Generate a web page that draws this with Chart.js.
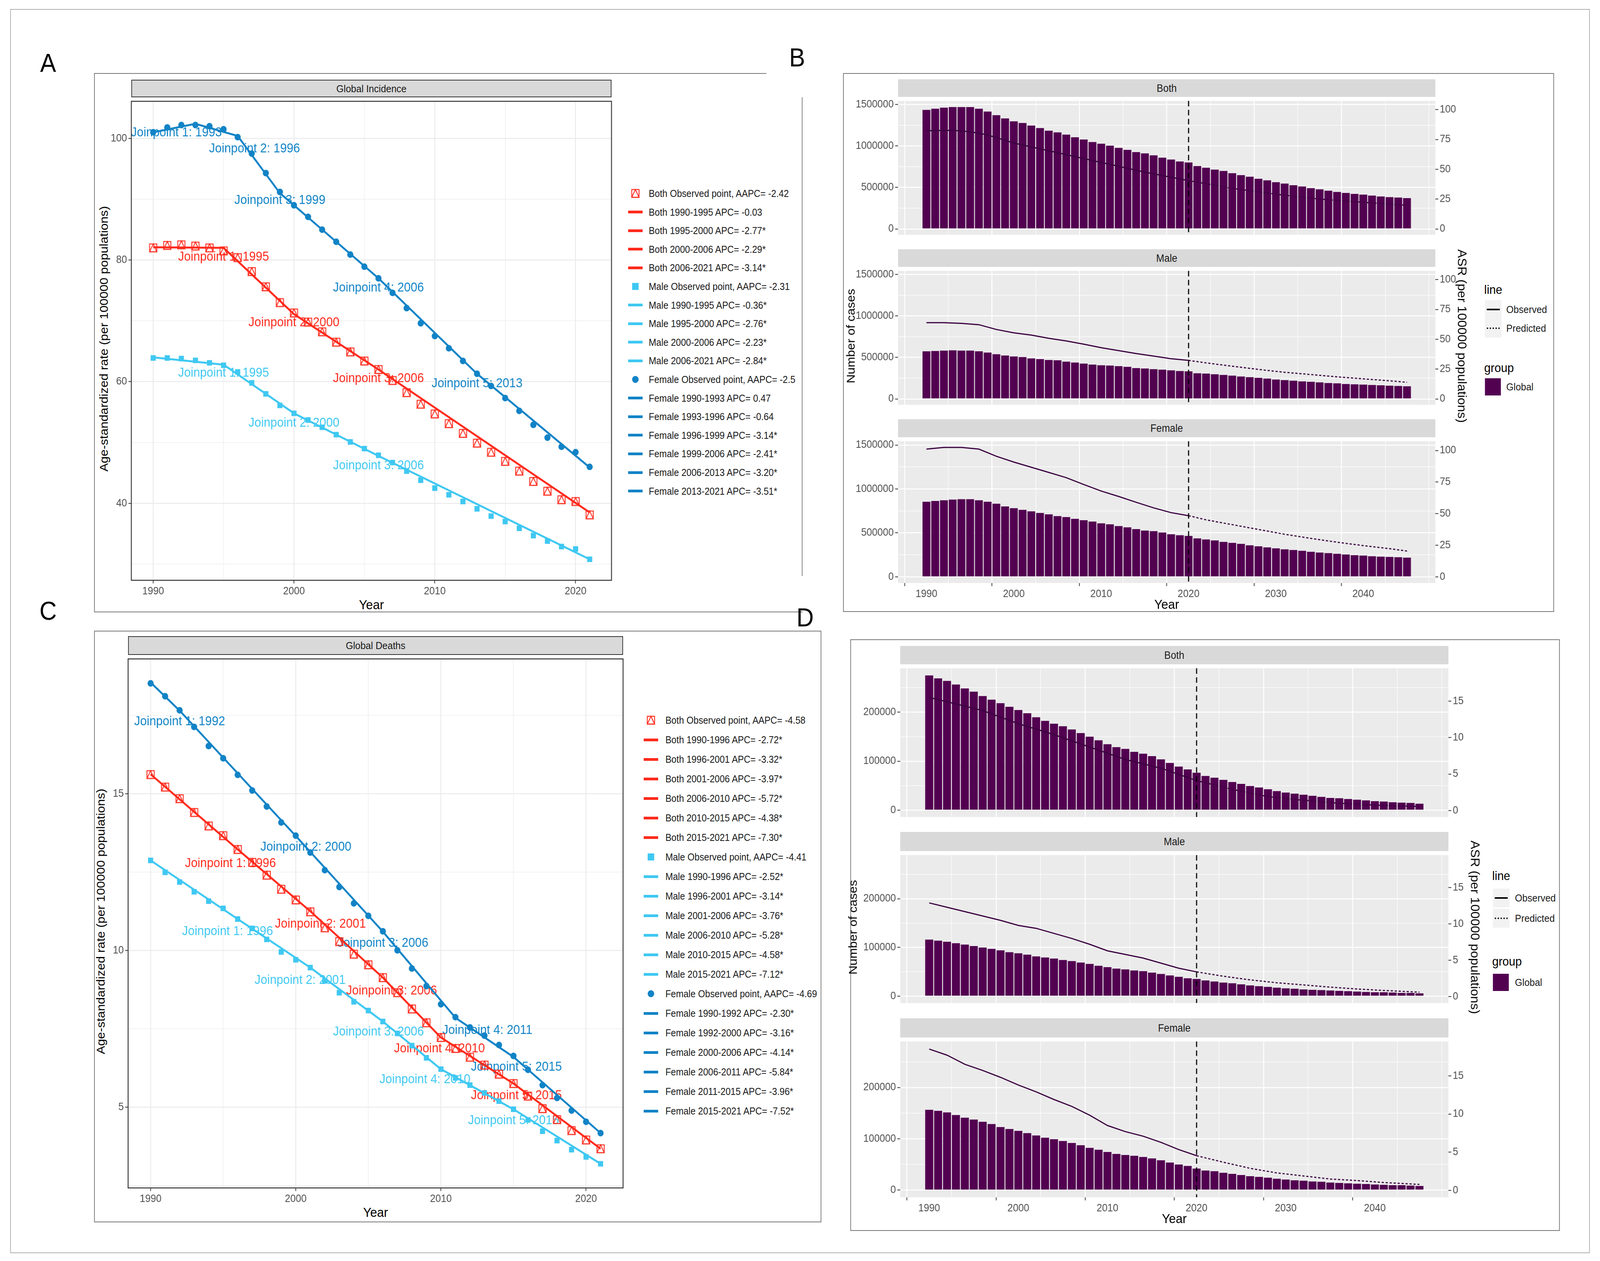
<!DOCTYPE html>
<html><head><meta charset="utf-8">
<script src="https://cdn.jsdelivr.net/npm/chart.js@4"></script>
<style>
html,body{margin:0;padding:0;overflow:hidden;background:#fff;width:100%;height:100%;}
#root{position:absolute;left:0;top:0;width:4422px;height:3227px;background:#fff;transform-origin:0 0;font-family:'Liberation Sans Narrow','Liberation Sans',sans-serif;}
.a{position:absolute;white-space:nowrap;}
</style></head><body><div id="root"></div>
<script>
const ROOT = document.getElementById('root');
ROOT.style.transform = `scale(${window.innerWidth / 4422}, ${window.innerHeight / 3227})`;

// ---------- categories ----------
const yrsObs = []; for (let y = 1990; y <= 2021; y++) yrsObs.push(y);
const yrsProj = []; for (let y = 1990; y <= 2045; y++) yrsProj.push(y);

// ---------- Panel A: Global Incidence (ASR) ----------
const aFemale = [101.0,101.8,102.2,102.2,102.0,101.5,100.2,97.5,94.3,91.2,89.0,87.1,85.0,83.0,80.9,78.9,77.0,74.6,72.1,69.6,67.5,65.5,63.4,61.3,59.3,57.3,55.2,52.9,50.8,49.3,48.4,46.0];
const aBoth = [82.0,82.4,82.5,82.3,82.0,81.5,80.4,78.1,75.6,73.0,71.3,69.8,68.2,66.5,64.9,63.4,62.0,60.2,58.2,56.3,54.7,53.1,51.5,49.9,48.4,46.9,45.3,43.6,42.0,40.6,40.3,38.1];
const aMale = [63.9,63.9,63.8,63.5,63.1,62.7,61.6,59.8,58.0,56.1,54.8,53.7,52.5,51.3,50.1,49.0,47.9,46.7,45.3,43.8,42.5,41.4,40.3,39.1,37.9,37.0,35.9,34.7,33.8,32.9,32.5,30.8];
const aBothFitX = [1990,1995,2000,2006,2021], aBothFitY = [82.1,82.0,71.1,62.0,38.5];
const aMaleFitX = [1990,1995,2000,2006,2021], aMaleFitY = [64.0,62.8,54.8,47.8,30.8];
const aFemaleFitX = [1990,1993,1996,1999,2006,2013,2021], aFemaleFitY = [101.0,102.4,100.4,91.0,77.0,61.3,45.9];
const aYTicks = [30,40,50,60,70,80,90,100];
const xTicksA = [1990,1995,2000,2005,2010,2015,2020];
const aLegend = ['Both Observed point, AAPC= -2.42','Both 1990-1995 APC= -0.03','Both 1995-2000 APC= -2.77*','Both 2000-2006 APC= -2.29*','Both 2006-2021 APC= -3.14*','Male Observed point, AAPC= -2.31','Male 1990-1995 APC= -0.36*','Male 1995-2000 APC= -2.76*','Male 2000-2006 APC= -2.23*','Male 2006-2021 APC= -2.84*','Female Observed point, AAPC= -2.5','Female 1990-1993 APC= 0.47','Female 1993-1996 APC= -0.64','Female 1996-1999 APC= -3.14*','Female 1999-2006 APC= -2.41*','Female 2006-2013 APC= -3.20*','Female 2013-2021 APC= -3.51*'];
const aJoin = [
 ['Joinpoint 1: 1993',1991.65,100.9,'F'],['Joinpoint 2: 1996',1997.2,98.3,'F'],['Joinpoint 3: 1999',1999,89.8,'F'],['Joinpoint 4: 2006',2006,75.4,'F'],['Joinpoint 5: 2013',2013,59.7,'F'],
 ['Joinpoint 1: 1995',1995,80.5,'B'],['Joinpoint 2: 2000',2000,69.7,'B'],['Joinpoint 3: 2006',2006,60.5,'B'],
 ['Joinpoint 1: 1995',1995,61.4,'M'],['Joinpoint 2: 2000',2000,53.2,'M'],['Joinpoint 3: 2006',2006,46.2,'M']];

// ---------- Panel C: Global Deaths (ASR) ----------
const cFemale = [18.52,18.11,17.66,17.13,16.52,16.13,15.60,15.10,14.59,14.08,13.66,13.12,12.56,12.02,11.50,11.10,10.61,10.00,9.42,8.86,8.28,7.87,7.54,7.28,6.98,6.63,6.19,5.70,5.29,4.89,4.53,4.17];
const cBoth = [15.61,15.21,14.84,14.40,13.97,13.66,13.22,12.81,12.40,11.95,11.61,11.23,10.72,10.28,9.88,9.54,9.13,8.65,8.13,7.69,7.22,6.87,6.59,6.34,6.05,5.75,5.35,4.95,4.60,4.25,3.95,3.67];
const cMale = [12.87,12.49,12.18,11.87,11.57,11.34,11.00,10.70,10.35,9.95,9.70,9.45,9.03,8.65,8.36,8.08,7.73,7.35,6.96,6.57,6.21,5.93,5.70,5.45,5.19,4.93,4.59,4.23,3.93,3.64,3.41,3.19];
const cBothFitX = [1990,1996,2001,2006,2010,2015,2021], cBothFitY = [15.62,13.22,11.25,9.13,7.22,5.75,3.67];
const cMaleFitX = [1990,1996,2001,2006,2010,2015,2021], cMaleFitY = [12.87,11.0,9.45,7.73,6.21,4.93,3.19];
const cFemaleFitX = [1990,1992,2000,2006,2011,2015,2021], cFemaleFitY = [18.55,17.65,13.65,10.6,7.85,6.6,4.17];
const cYTicks = [2.5,5,7.5,10,12.5,15,17.5];
const cLegend = ['Both Observed point, AAPC= -4.58','Both 1990-1996 APC= -2.72*','Both 1996-2001 APC= -3.32*','Both 2001-2006 APC= -3.97*','Both 2006-2010 APC= -5.72*','Both 2010-2015 APC= -4.38*','Both 2015-2021 APC= -7.30*','Male Observed point, AAPC= -4.41','Male 1990-1996 APC= -2.52*','Male 1996-2001 APC= -3.14*','Male 2001-2006 APC= -3.76*','Male 2006-2010 APC= -5.28*','Male 2010-2015 APC= -4.58*','Male 2015-2021 APC= -7.12*','Female Observed point, AAPC= -4.69','Female 1990-1992 APC= -2.30*','Female 1992-2000 APC= -3.16*','Female 2000-2006 APC= -4.14*','Female 2006-2011 APC= -5.84*','Female 2011-2015 APC= -3.96*','Female 2015-2021 APC= -7.52*'];
const cJoin = [
 ['Joinpoint 1: 1992',1992,17.3,'F'],['Joinpoint 2: 2000',2000.7,13.3,'F'],['Joinpoint 3: 2006',2006,10.23,'F'],['Joinpoint 4: 2011',2013.2,7.45,'F'],['Joinpoint 5: 2015',2015.2,6.28,'F'],
 ['Joinpoint 1: 1996',1995.5,12.77,'B'],['Joinpoint 2: 2001',2001.7,10.84,'B'],['Joinpoint 3: 2006',2006.6,8.70,'B'],['Joinpoint 4: 2010',2009.9,6.86,'B'],['Joinpoint 5: 2015',2015.2,5.36,'B'],
 ['Joinpoint 1: 1996',1995.3,10.6,'M'],['Joinpoint 2: 2001',2000.3,9.04,'M'],['Joinpoint 3: 2006',2005.7,7.4,'M'],['Joinpoint 4: 2010',2008.9,5.88,'M'],['Joinpoint 5: 2015',2015,4.56,'M']];

// ---------- Panel B: incidence cases + ASR projection ----------
const bBothCases = [1434000,1449000,1461000,1469000,1469000,1469000,1449000,1414000,1371000,1332000,1297000,1277000,1246000,1215000,1184000,1164000,1137000,1105000,1078000,1047000,1027000,1004000,977000,953000,926000,910000,887000,859000,836000,813000,801000,758000,738000,715000,699000,672000,648000,629000,605000,586000,563000,547000,527000,512000,492000,477000,461000,445000,434000,422000,414000,402000,391000,383000,379000,371000];
const bMaleCases = [574000,578000,582000,586000,582000,582000,574000,559000,539000,523000,512000,504000,488000,480000,469000,465000,449000,438000,426000,414000,406000,402000,395000,387000,371000,367000,359000,352000,344000,336000,332000,309000,305000,297000,289000,281000,270000,262000,254000,246000,234000,227000,219000,211000,207000,199000,191000,188000,180000,176000,172000,168000,164000,160000,156000,152000];
const bFemaleCases = [855000,863000,871000,879000,883000,883000,871000,855000,832000,801000,781000,762000,746000,727000,711000,691000,680000,660000,645000,629000,609000,598000,578000,563000,543000,527000,520000,504000,484000,473000,465000,438000,426000,414000,398000,387000,375000,359000,348000,336000,324000,313000,305000,297000,285000,277000,270000,262000,254000,246000,242000,234000,230000,227000,223000,219000];
const bBothObsX = [1990,1993,1995,1997,2000,2005,2010,2015,2020], bBothObsY = [82.3,82.6,81.5,78.8,72.0,63.9,55.7,47.6,40.5];
const bBothPredX = [2020,2025,2030,2035,2040,2045], bBothPredY = [40.5,34.0,29.1,25.0,22.3,19.8];
const bSexObsX = [1990,1992,1994,1996,1998,2000,2002,2004,2006,2008,2010,2012,2014,2016,2018,2020];
const bSexPredX = [2020,2022,2025,2028,2031,2034,2037,2040,2043,2045];
const bMaleObsY = [63.9,63.9,63.3,62.2,58.2,55.4,53.5,50.8,48.6,45.9,42.9,40.5,38.0,35.9,33.7,32.3];
const bMalePredY = [32.3,30.2,27.4,24.7,22.3,20.4,18.5,16.8,15.2,13.9];
const bFemaleObsY = [101.1,102.4,102.4,101.1,95.4,90.8,86.7,82.6,78.5,73.1,67.9,63.6,59.0,54.6,50.8,48.4];
const bFemalePredY = [48.4,45.1,41.3,37.5,33.7,30.4,27.4,24.7,22.3,20.4];
const bLeftTicks = [0,250000,500000,750000,1000000,1250000,1500000];
const bRightTicks = [0,25,50,75,100];
const xTicksP = [1990,1995,2000,2005,2010,2015,2020,2025,2030,2035,2040,2045];

// ---------- Panel D: death cases + ASR projection ----------
const dBothCases = [275000,269100,264000,256600,248500,241900,233100,225700,218400,211000,204400,197800,189700,182400,176500,171300,164700,157400,150000,142600,134600,128700,125000,119100,115400,110300,103700,96300,89000,83100,76500,69900,66200,61800,57400,53700,49300,46300,42600,39000,36000,33800,31600,29400,27200,25000,24300,22800,21300,19900,18400,17600,16200,15400,14700,13200];
const dMaleCases = [116200,114000,111800,108800,105900,102900,100000,97100,94100,90400,88200,85300,81600,79400,77200,74300,72100,69100,66200,62500,59600,56600,55100,52900,51500,48500,45600,42600,39700,36800,35300,32400,30100,27900,26500,24300,22100,20600,19100,17600,16200,15400,14000,13200,12500,11800,11000,10300,9600,8800,8100,8100,7400,6600,6600,5900];
const dFemaleCases = [156600,154400,151500,146300,141200,137500,133100,128700,122800,119100,115400,111000,106600,102200,99300,95600,91900,87500,82400,78700,74300,70600,68400,66900,64700,61800,58100,53700,50000,47100,41900,38200,36800,33800,31600,29400,27200,25700,24300,22100,20600,19100,18400,16900,16200,14700,14000,13200,12500,11800,11000,10300,9600,9600,8800,8100];
const dBothObsX = [1990,1993,1996,2000,2004,2008,2012,2016,2020], dBothObsY = [15.5,14.6,13.7,11.9,10.4,8.7,7.0,5.8,4.1];
const dBothPredX = [2020,2024,2028,2032,2036,2040,2045], dBothPredY = [4.1,2.9,1.9,1.4,1.0,0.74,0.55];
const dMaleObsX = [1990,1992,1995,1998,2000,2002,2004,2006,2008,2010,2012,2014,2016,2018,2020], dMaleObsY = [12.9,12.3,11.4,10.5,9.8,9.4,8.7,8.0,7.2,6.3,5.8,5.3,4.6,3.9,3.4];
const dSexPredX = [2020,2023,2026,2029,2032,2035,2038,2041,2045];
const dMalePredY = [3.4,2.8,2.3,1.9,1.6,1.3,1.04,0.84,0.6];
const dFemaleObsX = [1990,1992,1994,1996,1998,2000,2002,2004,2006,2008,2010,2012,2014,2016,2018,2020], dFemaleObsY = [18.5,17.7,16.5,15.7,14.8,13.8,12.9,11.9,11.0,9.85,8.5,7.7,7.1,6.3,5.35,4.55];
const dFemalePredY = [4.55,3.7,2.9,2.3,1.9,1.5,1.3,1.04,0.8];
const dLeftTicks = [0,50000,100000,150000,200000,250000];
const dRightTicks = [0,5,10,15];

// ---------- styling ----------
const RED = '#FF2A1C', MALE = '#3FC8F2', FEM = '#1183C6', PURP = '#520050', LINEP = '#3a0040';
const COL = {B: RED, M: MALE, F: FEM};
const FN = "'Liberation Sans Narrow','Liberation Sans',sans-serif";
Chart.defaults.font.family = FN;
Chart.defaults.color = '#4d4d4d';
Chart.defaults.animation = false;

const pairs = (xs, ys) => xs.map((x, i) => ({x, y: ys[i]}));

function div(x, y, w, h, css) {
  const d = document.createElement('div'); d.className = 'a';
  d.style.left = x + 'px'; d.style.top = y + 'px';
  if (w != null) d.style.width = w + 'px'; if (h != null) d.style.height = h + 'px';
  if (css) d.style.cssText += css;
  ROOT.appendChild(d); return d;
}
function txt(s, x, y, size, css, rot) {
  const d = div(x, y, null, null, `font-size:${size}px;line-height:1;transform:translate(-50%,-50%) rotate(${rot||0}deg);` + (css||''));
  d.textContent = s; return d;
}
function ltxt(s, x, y, size, css) {
  const d = div(x, y, null, null, `font-size:${size}px;line-height:1;transform:translateY(-50%);` + (css||''));
  d.textContent = s; return d;
}

function glyph(color) {
  const c = document.createElement('canvas'); c.width = 26; c.height = 26;
  const g = c.getContext('2d'); g.strokeStyle = color; g.lineWidth = 2.4;
  g.strokeRect(3, 3, 20, 20);
  g.beginPath(); g.moveTo(13, 3); g.lineTo(3, 23); g.lineTo(23, 23); g.closePath(); g.stroke();
  return c;
}

// plugins
Chart.register({
  id: 'panelbg',
  beforeDraw(c, a, o) { if (!o.color) return; const ca = c.chartArea; c.ctx.save(); c.ctx.fillStyle = o.color; c.ctx.fillRect(ca.left, ca.top, ca.right - ca.left, ca.bottom - ca.top); c.ctx.restore(); },
  afterDraw(c, a, o) { if (!o.frame) return; const ca = c.chartArea; c.ctx.save(); c.ctx.strokeStyle = o.frame; c.ctx.lineWidth = 2.5; c.ctx.strokeRect(ca.left, ca.top, ca.right - ca.left, ca.bottom - ca.top); c.ctx.restore(); }
});
Chart.register({
  id: 'vline',
  afterDatasetsDraw(c, a, o) { if (o.x == null) return; const px = c.scales.x.getPixelForValue(o.x); const ca = c.chartArea; const g = c.ctx; g.save(); g.strokeStyle = '#000'; g.lineWidth = 3; g.setLineDash([14, 9]); g.beginPath(); g.moveTo(px, ca.top); g.lineTo(px, ca.bottom); g.stroke(); g.restore(); }
});
Chart.register({
  id: 'jp',
  beforeDatasetsDraw(c, a, o) { if (!o.labels) return; const g = c.ctx; g.save(); g.font = `33px ${FN}`; g.textAlign = 'center'; g.textBaseline = 'middle';
    o.labels.forEach(l => { g.fillStyle = COL[l[3]]; g.fillText(l[0], c.scales.x.getPixelForValue(l[1]), c.scales.y.getPixelForValue(l[2])); }); g.restore(); }
});

function scaleX(min, max, ticks, every, show, gridColor) {
  return { type: 'linear', min, max, offset: false,
    afterBuildTicks: s => { s.ticks = ticks.map(v => ({value: v})); },
    ticks: { display: show, autoSkip: false, maxRotation: 0, padding: 4, font: {size: 27}, color: '#4d4d4d', callback: v => (v % every === 0 ? String(v) : '') },
    grid: { color: gridColor, lineWidth: c => (c.tick && c.tick.value % every === 0 ? 2.6 : 1.3), drawTicks: show, tickLength: 8, tickWidth: 2, tickColor: c => (c.tick && c.tick.value % every === 0 ? '#333' : 'rgba(0,0,0,0)') },
    border: { display: false } };
}
function scaleY(min, max, ticks, every, gridColor, pos) {
  const right = pos === 'right';
  return { type: 'linear', min, max, position: right ? 'right' : 'left',
    afterBuildTicks: s => { s.ticks = ticks.map(v => ({value: v})); },
    ticks: { autoSkip: false, padding: 4, font: {size: 27}, color: '#4d4d4d', callback: v => (Math.abs(v % every) < 1e-9 ? String(v) : '') },
    grid: { drawOnChartArea: !right, color: gridColor, lineWidth: c => (c.tick && Math.abs(c.tick.value % every) < 1e-9 ? 2.6 : 1.3), tickLength: 8, tickWidth: 2, tickColor: c => (c.tick && Math.abs(c.tick.value % every) < 1e-9 ? '#333' : 'rgba(0,0,0,0)') },
    border: { display: false } };
}

// generic chart builder with exact plot area
function mk(L, T, R, B, lw, rw, bh, cfg) {
  const pad = 10;
  const c = document.createElement('canvas');
  const W = R - L + lw + rw + 2, H = B - T + pad + bh;
  c.width = W; c.height = H; c.className = 'a';
  c.style.left = (L - lw) + 'px'; c.style.top = (T - pad) + 'px'; c.style.width = W + 'px'; c.style.height = H + 'px';
  ROOT.appendChild(c);
  const sc = cfg.options.scales;
  sc.y.afterFit = s => { s.width = lw; };
  sc.x.afterFit = s => { s.height = bh; };
  if (sc.y2) sc.y2.afterFit = s => { s.width = rw + 2; };
  cfg.options.layout = { padding: { top: pad, left: 0, bottom: 0, right: sc.y2 ? 0 : rw + 2 } };
  cfg.options.responsive = false; cfg.options.devicePixelRatio = 1; cfg.options.animation = false;
  cfg.options.plugins = Object.assign({ legend: {display: false}, tooltip: {enabled: false} }, cfg.options.plugins || {});
  return new Chart(c, cfg);
}

// ---------- frames & labels ----------
div(28, 23, 4366, 3184, 'border:2px solid #b0b0b0;box-sizing:border-box;');
div(260, 187, 1858, 1379, 'border-left:2px solid #777;border-top:2px solid #777;box-sizing:border-box;');
div(260, 1565, 1958, 2, 'background:#777;');
div(2216, 249, 2, 1225, 'background:#777;');
div(2330, 187, 1965, 1379, 'border:2px solid #777;box-sizing:border-box;');
div(260, 1614, 2010, 1514, 'border:2px solid #777;box-sizing:border-box;');
div(2350, 1636, 1961, 1514, 'border:2px solid #777;box-sizing:border-box;');
const PL = "font-family:'Liberation Sans',sans-serif;color:#000;";
txt('A', 133, 161, 66, PL); txt('B', 2203, 147, 66, PL); txt('C', 133, 1563, 66, PL); txt('D', 2225, 1580, 66, PL);

// ---------- joinpoint panels (A, C) ----------
function jpPanel(o) {
  div(o.L, o.ST, o.R - o.L, o.T - o.ST, 'background:#D9D9D9;border:2.5px solid #333;box-sizing:border-box;');
  txt(o.strip, (o.L + o.R) / 2, (o.ST + o.T) / 2, 26, 'color:#1a1a1a;');
  txt('Year', (o.L + o.R) / 2, o.B + 62, 34, 'color:#000;');
  txt('Age-standardized rate (per 100000 populations)', o.L - 76, (o.T + o.B) / 2, 32, "color:#000;font-family:'Liberation Sans',sans-serif;", -90);
  const g = glyph(RED);
  mk(o.L, o.T, o.R, o.B, 100, 12, 48, {
    type: 'line',
    data: { datasets: [
      {data: pairs(yrsObs, o.fem), showLine: false, pointStyle: 'circle', pointRadius: 8.5, backgroundColor: FEM, borderWidth: 0},
      {data: pairs(yrsObs, o.male), showLine: false, pointStyle: 'rect', pointRadius: 10, backgroundColor: MALE, borderWidth: 0},
      {data: pairs(yrsObs, o.both), showLine: false, pointStyle: g, pointRadius: 10},
      {data: pairs(o.ffx, o.ffy), borderColor: FEM, borderWidth: 5, pointRadius: 0},
      {data: pairs(o.mfx, o.mfy), borderColor: MALE, borderWidth: 5, pointRadius: 0},
      {data: pairs(o.bfx, o.bfy), borderColor: RED, borderWidth: 5, pointRadius: 0}
    ] },
    options: {
      scales: { x: scaleX(1988.45, 2022.55, xTicksA, 10, true, '#EBEBEB'), y: scaleY(o.ymin, o.ymax, o.yticks, o.every, '#EBEBEB') },
      plugins: { panelbg: {frame: '#333'}, jp: {labels: o.join} }
    }
  });
  // legend
  o.legend.forEach((s, i) => {
    const y = o.LY + o.LS * i, k = s.split(' ')[0];
    const col = k === 'Both' ? RED : k === 'Male' ? MALE : FEM;
    if (s.indexOf('Observed') >= 0) {
      if (k === 'Both') { const gc = glyph(RED); gc.className = 'a'; gc.style.left = (o.SX + 7) + 'px'; gc.style.top = (y - 13) + 'px'; ROOT.appendChild(gc); }
      else if (k === 'Male') div(o.SX + 11, y - 9, 18, 18, `background:${col};`);
      else div(o.SX + 11, y - 9, 18, 18, `background:${col};border-radius:50%;`);
    } else div(o.SX, y - 3.5, 40, 7, `background:${col};`);
    ltxt(s, o.TX, y, 25, 'color:#1a1a1a;');
  });
}
jpPanel({L: 363, R: 1690, ST: 204, T: 249, B: 1485, strip: 'Global Incidence', fem: aFemale, male: aMale, both: aBoth,
  ffx: aFemaleFitX, ffy: aFemaleFitY, mfx: aMaleFitX, mfy: aMaleFitY, bfx: aBothFitX, bfy: aBothFitY,
  ymin: 27.35, ymax: 106.1, yticks: aYTicks, every: 20, join: aJoin, legend: aLegend, LY: 495, LS: 47.6, SX: 1736, TX: 1793});
jpPanel({L: 354, R: 1722, ST: 1628, T: 1676, B: 3040, strip: 'Global Deaths', fem: cFemale, male: cMale, both: cBoth,
  ffx: cFemaleFitX, ffy: cFemaleFitY, mfx: cMaleFitX, mfy: cMaleFitY, bfx: cBothFitX, bfy: cBothFitY,
  ymin: 2.42, ymax: 19.3, yticks: cYTicks, every: 5, join: cJoin, legend: cLegend, LY: 1843, LS: 50, SX: 1779, TX: 1839});

// ---------- projection panels (B, D) ----------
function projPanel(o) {
  o.facets.forEach((f, i) => {
    const last = i === o.facets.length - 1;
    div(o.L, f.ST, o.R - o.L, f.T - f.ST, 'background:#D9D9D9;');
    txt(f.name, (o.L + o.R) / 2, (f.ST + f.T) / 2, 27, 'color:#1a1a1a;');
    mk(o.L, f.T, o.R, f.B, 150, 95, last ? 44 : 0, {
      type: 'bar',
      data: { datasets: [
        {type: 'line', data: pairs(f.ox, f.oy), yAxisID: 'y2', borderColor: LINEP, borderWidth: 3, pointRadius: 0},
        {type: 'line', data: pairs(f.px, f.py), yAxisID: 'y2', borderColor: LINEP, borderWidth: 3, borderDash: [6, 5], pointRadius: 0},
        {type: 'bar', data: pairs(yrsProj, f.cases), yAxisID: 'y', backgroundColor: PURP, barPercentage: 0.9, categoryPercentage: 1}
      ] },
      options: {
        scales: {
          x: scaleX(1986.75, 2048.25, xTicksP, 10, last, '#FFFFFF'),
          y: scaleY(o.lmin, o.lmax, o.lticks, o.levery, '#FFFFFF'),
          y2: scaleY(o.rmin, o.rmax, o.rticks, o.revery, '#FFFFFF', 'right')
        },
        plugins: { panelbg: {color: '#EBEBEB'}, vline: {x: 2020} }
      }
    });
  });
  const mid = (o.facets[1].T + o.facets[1].B) / 2 - 10;
  txt('Number of cases', o.L - 131, mid, 32, "color:#000;font-family:'Liberation Sans',sans-serif;", -90);
  txt('ASR (per 100000 populations)', o.R + 74, mid, 33, "color:#000;font-family:'Liberation Sans',sans-serif;", 90);
  txt('Year', (o.L + o.R) / 2, o.facets[2].B + 54, 34, 'color:#000;');
  const g = o.leg;
  ltxt('line', g.x, g.line, 32, 'color:#000;');
  div(g.kx, g.obs - 24, 46, 48, 'background:#F2F2F2;'); div(g.kx, g.pred - 24, 46, 48, 'background:#F2F2F2;');
  div(g.kx + 5, g.obs - 2, 36, 4, 'background:#000;');
  div(g.kx + 5, g.pred - 2, 36, 0, 'border-top:4px dotted #000;');
  ltxt('Observed', g.tx, g.obs, 26, 'color:#1a1a1a;'); ltxt('Predicted', g.tx, g.pred, 26, 'color:#1a1a1a;');
  ltxt('group', g.x, g.group, 32, 'color:#000;');
  div(g.kx, g.glob - 22, 44, 44, `background:${PURP};`);
  ltxt('Global', g.tx, g.glob, 26, 'color:#1a1a1a;');
}
projPanel({L: 2482, R: 3967, lmin: -70300, lmax: 1543000, lticks: bLeftTicks, levery: 500000, rmin: -4.9, rmax: 107.3, rticks: bRightTicks, revery: 25,
  facets: [
    {name: 'Both', ST: 203, T: 248, B: 621, cases: bBothCases, ox: bBothObsX, oy: bBothObsY, px: bBothPredX, py: bBothPredY},
    {name: 'Male', ST: 638, T: 683, B: 1056, cases: bMaleCases, ox: bSexObsX, oy: bMaleObsY, px: bSexPredX, py: bMalePredY},
    {name: 'Female', ST: 1073, T: 1119, B: 1492, cases: bFemaleCases, ox: bSexObsX, oy: bFemaleObsY, px: bSexPredX, py: bFemalePredY}],
  leg: {x: 4102, kx: 4104, tx: 4163, line: 741, obs: 792, pred: 840, group: 941, glob: 990}});
projPanel({L: 2488, R: 4003, lmin: -14000, lmax: 289700, lticks: dLeftTicks, levery: 100000, rmin: -0.89, rmax: 19.49, rticks: dRightTicks, revery: 5,
  facets: [
    {name: 'Both', ST: 1653, T: 1700, B: 2111, cases: dBothCases, ox: dBothObsX, oy: dBothObsY, px: dBothPredX, py: dBothPredY},
    {name: 'Male', ST: 2129, T: 2178, B: 2587, cases: dMaleCases, ox: dMaleObsX, oy: dMaleObsY, px: dSexPredX, py: dMalePredY},
    {name: 'Female', ST: 2606, T: 2655, B: 3064, cases: dFemaleCases, ox: dFemaleObsX, oy: dFemaleObsY, px: dSexPredX, py: dFemalePredY}],
  leg: {x: 4124, kx: 4126, tx: 4187, line: 2241, obs: 2298, pred: 2350, group: 2460, glob: 2514}});
</script>
</body></html>
